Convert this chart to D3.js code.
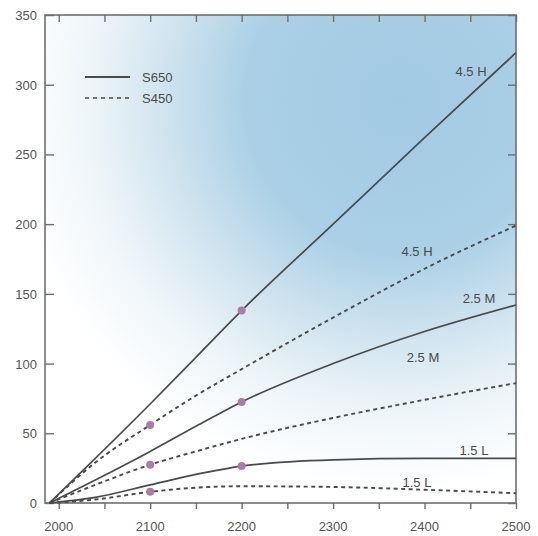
<!DOCTYPE html>
<html><head><meta charset="utf-8">
<script src="https://cdn.jsdelivr.net/npm/d3@7"></script>
<style>body{margin:0;background:#fff}svg{display:block}text{font-family:"Liberation Sans",Arial,sans-serif}</style>
</head><body>
<script>
const years = [1990, 2040, 2100, 2150, 2200, 2300, 2400, 2500];
const s650_45H = [0, 32, 71, 104.5, 138, 200, 262, 323];
const s450_45H = [0, 29, 56, 77, 96, 133, 168, 199];
const s650_25M = [0, 16.5, 37, 55, 72.5, 100, 123, 142];
const s450_25M = [0, 13, 27.5, 37, 46, 61, 74, 86];
const s650_15L = [0, 4, 13, 20.5, 26.5, 31, 32, 32];
const s450_15L = [0, 2.5, 8, 11, 12, 11.5, 9.5, 7];
const seriesNames = ["S650", "S450"];
const lineLabels = ["4.5 H", "4.5 H", "2.5 M", "2.5 M", "1.5 L", "1.5 L"];
const markerYears = [2100, 2100, 2100, 2200, 2200, 2200];
const markerValues = [56, 27.5, 8, 138, 72.5, 26.5];
const yTicks = [0, 50, 100, 150, 200, 250, 300, 350];
const xTicks = [2000, 2100, 2200, 2300, 2400, 2500];
const xMinor = [2000,2050,2100,2150,2200,2250,2300,2350,2400,2450,2500];

(function(){
const W = 538, H = 536;
const svg = d3.select("body").append("svg").attr("width", W).attr("height", H);
const x = d3.scaleLinear().domain([1985, 2500]).range([45, 516]);
const y = d3.scaleLinear().domain([0, 350]).range([503, 15]);

const defs = svg.append("defs");
const g = defs.append("radialGradient").attr("id", "bg").attr("gradientUnits", "userSpaceOnUse")
  .attr("cx", 400).attr("cy", 100).attr("r", 390);
[[0, "#a2cae3"], [0.4, "#abd0e6"], [0.6, "#cfe3ef"], [0.8, "#eef5f9"], [1, "#ffffff"]]
  .forEach(([o, c]) => g.append("stop").attr("offset", o).attr("stop-color", c));

svg.append("rect").attr("x", x(1985)).attr("y", y(350)).attr("width", x(2500) - x(1985))
  .attr("height", y(0) - y(350)).attr("fill", "url(#bg)");

const axisColor = "#6f6f6f";
svg.append("rect").attr("x", x(1985)).attr("y", y(350)).attr("width", x(2500) - x(1985))
  .attr("height", y(0) - y(350)).attr("fill", "none").attr("stroke", axisColor).attr("stroke-width", 1.6);

const leftAx = svg.append("g").attr("transform", `translate(${x(1985)},0)`)
  .call(d3.axisRight(y).tickValues(yTicks).tickSize(9).tickFormat(""));
leftAx.select(".domain").remove();
leftAx.selectAll("line").attr("stroke", axisColor).attr("stroke-width", 1.4);
svg.append("g").selectAll("text").data(yTicks).join("text")
  .attr("x", 37).attr("y", d => y(d) + 5).attr("text-anchor", "end")
  .attr("font-size", 13).attr("fill", "#555").text(d => d);

const rightAx = svg.append("g").attr("transform", `translate(${x(2500)},0)`)
  .call(d3.axisLeft(y).tickValues(yTicks).tickSize(8).tickFormat(""));
rightAx.select(".domain").remove();
rightAx.selectAll("line").attr("stroke", axisColor).attr("stroke-width", 1.4);

const bottomAx = svg.append("g").attr("transform", `translate(0,${y(0)})`)
  .call(d3.axisBottom(x).tickValues(xMinor).tickSize(6).tickFormat(""));
bottomAx.select(".domain").remove();
bottomAx.selectAll("line").attr("stroke", axisColor).attr("stroke-width", 1.4);
svg.append("g").selectAll("text").data(xTicks).join("text")
  .attr("x", d => x(d)).attr("y", 531).attr("text-anchor", "middle")
  .attr("font-size", 13).attr("fill", "#555").text(d => d);

const topAx = svg.append("g").attr("transform", `translate(0,${y(350)})`)
  .call(d3.axisBottom(x).tickValues(xMinor).tickSize(7).tickFormat(""));
topAx.select(".domain").remove();
topAx.selectAll("line").attr("stroke", axisColor).attr("stroke-width", 1.4);

const line = d3.line().x((d, i) => x(years[i])).y(d => y(d)).curve(d3.curveMonotoneX);
const all = [s650_45H, s450_45H, s650_25M, s450_25M, s650_15L, s450_15L];
all.forEach((s, k) => {
  const dashed = k % 2 === 1;
  svg.append("path").attr("d", line(s)).attr("fill", "none")
    .attr("stroke", "#4a4a4a").attr("stroke-width", dashed ? 1.9 : 1.7)
    .attr("stroke-dasharray", dashed ? "4,3.5" : null);
});

svg.append("g").selectAll("circle").data(markerValues).join("circle")
  .attr("cx", (d, i) => x(markerYears[i])).attr("cy", d => y(d)).attr("r", 4)
  .attr("fill", "#a97ea6");

const labelPos = [[471, 76], [417, 256], [479, 303], [423, 362], [474, 455], [417, 487]];
svg.append("g").selectAll("text").data(lineLabels).join("text")
  .attr("x", (d, i) => labelPos[i][0]).attr("y", (d, i) => labelPos[i][1])
  .attr("text-anchor", "middle").attr("font-size", 13).attr("fill", "#4a4a4a").text(d => d);

const leg = svg.append("g");
seriesNames.forEach((n, i) => {
  const ly = 77 + i * 21;
  leg.append("line").attr("x1", 85).attr("x2", 130).attr("y1", ly).attr("y2", ly)
    .attr("stroke", "#4a4a4a").attr("stroke-width", i ? 1.6 : 1.8)
    .attr("stroke-dasharray", i ? "4,4" : null);
  leg.append("text").attr("x", 142).attr("y", ly + 5).attr("font-size", 13)
    .attr("fill", "#4a4a4a").text(n);
});
})();
</script>
</body></html>
